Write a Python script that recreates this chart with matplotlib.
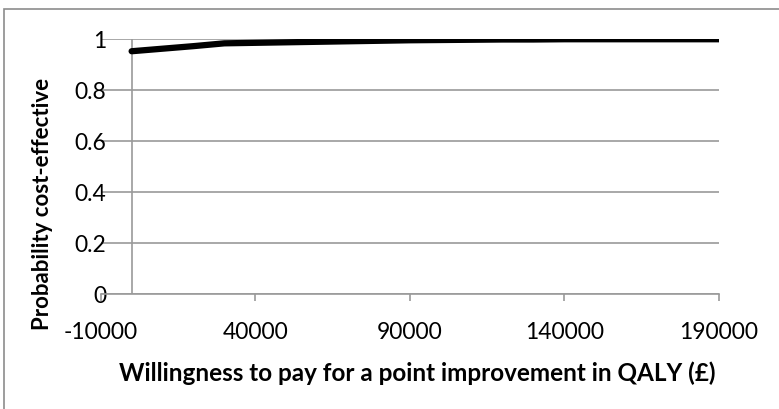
import matplotlib.pyplot as plt
from matplotlib.patches import Rectangle

# willingness to pay (GBP) vs probability cost-effective
wtp = [0, 10000, 20000, 30000, 40000, 50000, 60000, 70000, 80000, 90000,
       100000, 110000, 120000, 130000, 140000, 150000, 160000, 170000, 180000, 190000]
prob = [0.952, 0.962, 0.972, 0.983, 0.985, 0.987, 0.989, 0.991, 0.993, 0.995,
        0.996, 0.997, 0.998, 0.998, 0.999, 0.999, 0.999, 0.999, 0.999, 0.999]

x_ticks = [-10000, 40000, 90000, 140000, 190000]
y_ticks = [0, 0.2, 0.4, 0.6, 0.8, 1]
y_labels = ['0', '0.2', '0.4', '0.6', '0.8', '1']

W, H = 779, 410
grey = '#9a9a9a'
plt.rcParams['font.family'] = ['Lato', 'DejaVu Sans']

fig = plt.figure(figsize=(W / 100, H / 100), dpi=100)
ax = fig.add_axes([100.7 / W, 1 - 295 / H, (719 - 100.7) / W, (295 - 40) / H])

ax.set_xlim(-10000, 190000)
ax.set_ylim(0, 1)

for s in ['top', 'right', 'left']:
    ax.spines[s].set_visible(False)
ax.spines['bottom'].set_color(grey)
ax.spines['bottom'].set_linewidth(1.2)

ax.set_yticks(y_ticks)
ax.set_yticklabels(y_labels)
ax.grid(axis='y', color=grey, linewidth=1.2)
ax.set_axisbelow(True)
ax.axvline(0, color=grey, linewidth=1.2, zorder=1)

ax.set_xticks(x_ticks)
ax.set_xticklabels([str(v) for v in x_ticks])
ax.tick_params(axis='x', length=5, width=1.2, color=grey, pad=14.5, labelsize=16.5)
ax.tick_params(axis='y', length=0, pad=-4, labelsize=16.5)

ax.plot(wtp, prob, color='black', linewidth=4.5, solid_capstyle='round', zorder=3)

fig.text(417 / W, 1 - 373 / H, 'Willingness to pay for a point improvement in QALY (£)',
         ha='center', va='center', fontsize=17.5, fontweight='bold')
fig.text(43 / W, 1 - 204 / H, 'Probability cost-effective', rotation=90,
         ha='center', va='center', fontsize=16, fontweight='bold')

# chart-area border (only top/left visible in the crop)
fig.patches.append(Rectangle((4 / W, -0.1), 1.2, 1 - 10 / H + 0.1, transform=fig.transFigure,
                             fill=False, edgecolor='#8c8c8c', linewidth=1.2))

fig.savefig('out.png', dpi=100)
